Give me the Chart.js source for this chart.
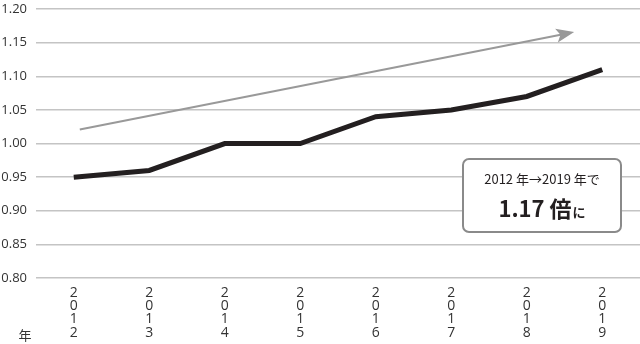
<!DOCTYPE html>
<html><head><meta charset="utf-8">
<script src="https://cdn.jsdelivr.net/npm/chart.js@4"></script>
<style>html,body{margin:0;padding:0;background:#fff}#wrap{width:640px;height:344px}</style>
</head><body><div id="wrap"><canvas id="c"></canvas></div>
<script>
const categories = ["2012","2013","2014","2015","2016","2017","2018","2019"];
const values = [0.95, 0.96, 1.00, 1.00, 1.04, 1.05, 1.07, 1.11];
const yTicks = [0.80,0.85,0.90,0.95,1.00,1.05,1.10,1.15,1.20];
const trendArrow = [{x:0.08, y:1.021}, {x:6.55, y:1.164}];
const axisUnit = "年";
const noteLine1 = "2012 年→2019 年で";
const noteBig = "1.17 倍";
const noteSmall = "に";

const FONT = "'Noto Sans CJK JP','Noto Sans',sans-serif";
const NUMFONT = "'Open Sans','Noto Sans CJK JP',sans-serif";

const overlay = {
  id:'overlay',
  afterDatasetsDraw(chart){
    const ctx = chart.ctx;
    const meta = chart.getDatasetMeta(1);
    const p0 = meta.data[0], p1 = meta.data[meta.data.length-1];
    const ang = Math.atan2(p1.y-p0.y, p1.x-p0.x);
    ctx.save();
    ctx.translate(p1.x, p1.y); ctx.rotate(ang);
    ctx.fillStyle = '#999';
    ctx.beginPath();
    ctx.moveTo(6,0); ctx.lineTo(-12,-7); ctx.lineTo(-8,0); ctx.lineTo(-12,7); ctx.closePath();
    ctx.fill();
    ctx.restore();
  },
  afterDraw(chart){
    const ctx = chart.ctx;
    ctx.save();
    ctx.fillStyle = '#333';
    ctx.font = "13px " + FONT;
    ctx.textAlign = 'center'; ctx.textBaseline = 'middle';
    ctx.fillText(axisUnit, 25, 335);
    const bx = 463, by = 159, bw = 158, bh = 73, r = 6;
    ctx.fillStyle = '#fff';
    ctx.strokeStyle = '#8a8a8a';
    ctx.lineWidth = 2;
    ctx.beginPath();
    ctx.roundRect(bx, by, bw, bh, r);
    ctx.fill(); ctx.stroke();
    ctx.fillStyle = '#231f20';
    ctx.font = "13px " + FONT;
    ctx.textAlign = 'center';
    ctx.fillText(noteLine1, bx + bw/2, 179);
    ctx.font = "bold 22px " + FONT;
    const w1 = ctx.measureText(noteBig).width;
    ctx.font = "bold 13px " + FONT;
    const w2 = ctx.measureText(noteSmall).width;
    const sx = bx + bw/2 - (w1 + w2 + 1)/2;
    ctx.textAlign = 'left'; ctx.textBaseline = 'alphabetic';
    ctx.font = "bold 22px " + FONT;
    ctx.fillText(noteBig, sx, 217);
    ctx.font = "bold 13px " + FONT;
    ctx.fillText(noteSmall, sx + w1 + 1, 217);
    ctx.restore();
  }
};

new Chart(document.getElementById('c'), {
  type:'line',
  data:{
    labels: categories.map(c => c.split('')),
    datasets:[
      {data: values, borderColor:'#231f20', borderWidth:5, pointRadius:0, tension:0, fill:false, borderJoinStyle:'miter', xAxisID:'x'},
      {data: trendArrow, borderColor:'#999', borderWidth:2, pointRadius:0, tension:0, fill:false, xAxisID:'x2'}
    ]
  },
  options:{
    responsive:true, maintainAspectRatio:false, animation:false,
    layout:{padding:0},
    plugins:{legend:{display:false}, tooltip:{enabled:false}},
    scales:{
      x:{ type:'category', offset:true,
        grid:{display:false, drawTicks:false}, border:{display:false},
        ticks:{color:'#333', font:{family:NUMFONT, size:14, lineHeight:0.95}, padding:8, maxRotation:0, autoSkip:false},
        afterFit(s){ s.height = 66; }
      },
      x2:{ type:'linear', display:false, min:-0.5, max:7.5 },
      y:{ min:0.80, max:1.20,
        afterBuildTicks(s){ s.ticks = yTicks.map(v=>({value:v})); },
        grid:{color:'#c4c4c4', lineWidth:1.5, drawTicks:false}, border:{display:false},
        ticks:{color:'#333', font:{family:NUMFONT, size:13, lineHeight:0.01}, padding:9, callback:v=>v.toFixed(2)},
        afterFit(s){ s.width = 36; }
      }
    }
  },
  plugins:[overlay]
});
</script></body></html>
